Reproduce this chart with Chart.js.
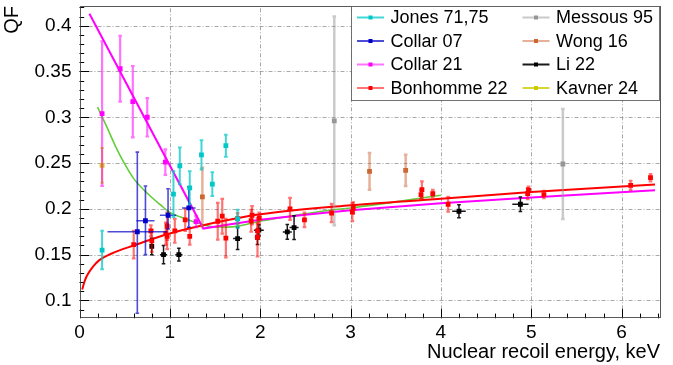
<!DOCTYPE html>
<html><head><meta charset="utf-8">
<script src="https://cdn.jsdelivr.net/npm/chart.js@4/dist/chart.umd.min.js"></script>
<style>html,body{margin:0;padding:0;background:#fff;}canvas{display:block;}</style>
</head><body>
<canvas id="c" width="673" height="365"></canvas>
<script>
// ---------- data ----------
const xTickLabels = ['0','1','2','3','4','5','6'];
const yTickLabels = ['0.1','0.15','0.2','0.25','0.3','0.35','0.4'];

const jonesX   = [0.25, 1.04, 1.11, 1.22, 1.35, 1.47, 1.62, 1.75];
const jonesY   = [0.155, 0.216, 0.247, 0.223, 0.259, 0.227, 0.269, 0.189];
const jonesErr = [0.021, 0.025, 0.020, 0.018, 0.016, 0.013, 0.012, 0.010];

const collar07X    = [0.64, 0.73, 0.98, 1.21];
const collar07Y    = [0.175, 0.187, 0.193, 0.201];
const collar07XErr = [0.33, 0.10, 0.09, 0.075];
const collar07YLo  = [0.089, 0.037, 0.015, 0.021];
const collar07YHi  = [0.087, 0.038, 0.029, 0.023];

const collar21X   = [0.25, 0.45, 0.59, 0.75, 0.95, 1.29];
const collar21Y   = [0.304, 0.353, 0.317, 0.300, 0.251, 0.186];
const collar21Err = [0.079, 0.036, 0.039, 0.021, 0.014, 0.006];

const bonhommeX   = [0.60, 0.79, 0.80, 0.955, 0.97, 0.97, 1.055, 1.17, 1.22, 1.53, 1.58, 1.62, 1.75, 1.90, 1.91, 1.97, 1.97, 1.99, 2.33, 2.49, 2.79, 3.02, 3.03, 3.78, 3.79, 3.91, 4.08, 4.96, 4.97, 5.14, 6.10, 6.32];
const bonhommeY   = [0.161, 0.176, 0.165, 0.173, 0.181, 0.170, 0.176, 0.188, 0.170, 0.1865, 0.192, 0.168, 0.1894, 0.187, 0.193, 0.176, 0.169, 0.190, 0.200, 0.188, 0.1955, 0.1966, 0.201, 0.2156, 0.221, 0.2167, 0.205, 0.2167, 0.2203, 0.2156, 0.2257, 0.234];
const bonhommeErr = [0.015, 0.006, 0.012, 0.012, 0.015, 0.014, 0.013, 0.012, 0.009, 0.020, 0.019, 0.021, 0.006, 0.012, 0.010, 0.008, 0.021, 0.006, 0.012, 0.008, 0.010, 0.010, 0.006, 0.005, 0.009, 0.004, 0.008, 0.006, 0.004, 0.004, 0.005, 0.004];

const messousX   = [2.82, 5.35];
const messousY   = [0.296, 0.249];
const messousErr = [0.114, 0.060];

const wongX   = [1.36, 3.21, 3.61];
const wongY   = [0.213, 0.241, 0.242];
const wongErr = [0.032, 0.020, 0.017];

const liX    = [0.80, 0.93, 1.10, 1.75, 1.97, 1.985, 2.30, 2.375, 4.20, 4.88];
const liY    = [0.159, 0.150, 0.150, 0.1676, 0.169, 0.1767, 0.1748, 0.1796, 0.1974, 0.205];
const liXErr = [0.01, 0.04, 0.04, 0.05, 0.03, 0.055, 0.05, 0.05, 0.075, 0.09];
const liYErr = [0.009, 0.010, 0.007, 0.012, 0.008, 0.006, 0.008, 0.013, 0.007, 0.008];

const kavnerX   = [0.25];
const kavnerY   = [0.2475];
const kavnerErr = [0.019];

// model curves
const collar21FitX = [0.11, 1.37, 1.6, 2.0, 2.5, 3.0, 4.0, 5.0, 6.37];
const collar21FitY = [0.413, 0.1785, 0.182, 0.188, 0.1935, 0.1985, 0.206, 0.2125, 0.2203];

const bonhommeFitX = [0.03, 0.06, 0.10, 0.15, 0.22, 0.35, 0.60, 1.00, 1.37, 2.00, 3.00, 4.00, 5.00, 6.37];
const bonhommeFitY = [0.112, 0.122, 0.130, 0.137, 0.144, 0.151, 0.160, 0.173, 0.182, 0.194, 0.204, 0.211, 0.2185, 0.2265];

const greenX = [0.20, 0.30, 0.40, 0.50, 0.60, 0.75, 0.90, 1.00, 1.12, 1.26, 1.44, 1.63, 1.77, 1.96, 2.33, 2.77, 3.00, 4.00];
const greenY = [0.311, 0.290, 0.268, 0.249, 0.233, 0.217, 0.204, 0.196, 0.191, 0.186, 0.181, 0.180, 0.1814, 0.1857, 0.192, 0.1985, 0.201, 0.2148];

// ---------- helpers ----------
const pts = (xs, ys) => xs.map((x, i) => ({x: x, y: ys[i]}));
const FONT = '"Liberation Sans", Arial, Helvetica, sans-serif';

function pointSet(label, xs, ys, color, barColor, barWidth, err, radius) {
  return {
    label: label, data: pts(xs, ys), showLine: false,
    pointStyle: 'rect', pointRadius: radius || 3.4, pointBorderWidth: 0,
    backgroundColor: color, borderColor: color,
    barColor: barColor, barWidth: barWidth, err: err, order: 0
  };
}
function curveSet(label, xs, ys, color, width, interp) {
  return {
    label: label, data: pts(xs, ys), showLine: true, pointRadius: 0,
    borderColor: color, borderWidth: width, backgroundColor: color,
    cubicInterpolationMode: interp ? 'monotone' : 'default', tension: 0,
    order: 10, isCurve: true
  };
}

const datasets = [
  pointSet('Jones 71,75', jonesX, jonesY, 'rgb(0,200,200)', 'rgba(0,200,200,0.75)', 2, {lo: jonesErr, hi: jonesErr}),
  pointSet('Collar 07', collar07X, collar07Y, 'rgb(0,0,200)', 'rgba(0,0,200,0.7)', 1.6, {lo: collar07YLo, hi: collar07YHi, x: collar07XErr}),
  pointSet('Collar 21', collar21X, collar21Y, 'rgb(255,0,255)', 'rgba(255,0,255,0.55)', 2.2, {lo: collar21Err, hi: collar21Err}),
  pointSet('Bonhomme 22', bonhommeX, bonhommeY, 'rgb(255,0,0)', 'rgba(255,0,0,0.55)', 2.2, {lo: bonhommeErr, hi: bonhommeErr}),
  pointSet('Messous 95', messousX, messousY, 'rgb(150,150,150)', 'rgba(150,150,150,0.5)', 2.5, {lo: messousErr, hi: messousErr}),
  pointSet('Wong 16', wongX, wongY, 'rgb(204,102,51)', 'rgba(204,102,51,0.5)', 2.5, {lo: wongErr, hi: wongErr}),
  pointSet('Li 22', liX, liY, 'rgb(0,0,0)', 'rgba(0,0,0,0.9)', 1.5, {lo: liYErr, hi: liYErr, x: liXErr}),
  pointSet('Kavner 24', kavnerX, kavnerY, 'rgb(204,204,0)', 'rgba(204,204,0,0.8)', 2, {lo: kavnerErr, hi: kavnerErr}),
  curveSet('Collar 21 fit', collar21FitX, collar21FitY, 'rgb(255,0,255)', 2, false),
  curveSet('Bonhomme 22 fit', bonhommeFitX, bonhommeFitY, 'rgb(255,0,0)', 2, true),
  curveSet('model', greenX, greenY, 'rgb(100,205,60)', 1.6, true)
];

// legend layout: [label, column, row]
const legendOrder = [
  ['Jones 71,75', 0, 0], ['Collar 07', 0, 1], ['Collar 21', 0, 2], ['Bonhomme 22', 0, 3],
  ['Messous 95', 1, 0], ['Wong 16', 1, 1], ['Li 22', 1, 2], ['Kavner 24', 1, 3]
];

// ---------- plugins ----------
const framePlugin = {
  id: 'frame',
  beforeDatasetsDraw(chart) {
    const {ctx, chartArea: a, scales: {x, y}} = chart;
    ctx.save();
    // grid
    ctx.strokeStyle = 'rgba(140,140,140,0.75)';
    ctx.lineWidth = 1;
    ctx.setLineDash([4, 2, 1, 2]);
    x.ticks.forEach(t => {
      if (t.value <= x.min) return;
      const px = Math.round(x.getPixelForValue(t.value)) + 0.5;
      ctx.beginPath(); ctx.moveTo(px, a.bottom); ctx.lineTo(px, a.top); ctx.stroke();
    });
    y.ticks.forEach(t => {
      const py = Math.round(y.getPixelForValue(t.value)) + 0.5;
      ctx.beginPath(); ctx.moveTo(a.left, py); ctx.lineTo(a.right, py); ctx.stroke();
    });
    ctx.setLineDash([]);
    // ticks inside the frame
    ctx.strokeStyle = '#000';
    ctx.beginPath();
    for (let k = 0; k * 0.2 <= x.max + 1e-9; k++) {
      const v = k * 0.2;
      const px = Math.round(x.getPixelForValue(v)) + 0.5;
      const len = (k % 5 === 0) ? 9.5 : 4.7;
      ctx.moveTo(px, a.bottom); ctx.lineTo(px, a.bottom - len);
    }
    for (let k = 9; k * 0.01 <= y.max + 1e-9; k++) {
      const v = k * 0.01;
      const py = Math.round(y.getPixelForValue(v)) + 0.5;
      const len = (k % 5 === 0) ? 9.5 : 4.7;
      ctx.moveTo(a.left, py); ctx.lineTo(a.left + len, py);
    }
    ctx.stroke();
    ctx.restore();
  },
  afterDatasetsDraw(chart) {
    const {ctx, chartArea: a} = chart;
    ctx.save();
    ctx.strokeStyle = 'rgba(60,60,60,0.85)';
    ctx.lineWidth = 1;
    ctx.strokeRect(Math.round(a.left) + 0.5, Math.round(a.top) + 0.5, Math.round(a.right - a.left) - 1, Math.round(a.bottom - a.top) - 1);
    ctx.restore();
  }
};

const errorBarPlugin = {
  id: 'errbars',
  beforeDatasetDraw(chart, args) {
    const ds = chart.data.datasets[args.index];
    if (!ds.err) return;
    const {ctx, chartArea: a, scales: {x, y}} = chart;
    ctx.save();
    ctx.beginPath(); ctx.rect(a.left, a.top, a.right - a.left, a.bottom - a.top); ctx.clip();
    ctx.strokeStyle = ds.barColor;
    ctx.lineWidth = ds.barWidth;
    ds.data.forEach((p, i) => {
      const px = x.getPixelForValue(p.x);
      const py = y.getPixelForValue(p.y);
      const y1 = y.getPixelForValue(p.y - ds.err.lo[i]);
      const y2 = y.getPixelForValue(p.y + ds.err.hi[i]);
      ctx.beginPath();
      ctx.moveTo(px, y1); ctx.lineTo(px, y2);
      ctx.moveTo(px - 1.8, y1); ctx.lineTo(px + 1.8, y1);
      ctx.moveTo(px - 1.8, y2); ctx.lineTo(px + 1.8, y2);
      if (ds.err.x) {
        const x1 = x.getPixelForValue(p.x - ds.err.x[i]);
        const x2 = x.getPixelForValue(p.x + ds.err.x[i]);
        ctx.moveTo(x1, py); ctx.lineTo(x2, py);
      }
      ctx.stroke();
    });
    ctx.restore();
  }
};

const legendPlugin = {
  id: 'rootLegend',
  afterDatasetsDraw(chart) {
    const {ctx, chartArea: a} = chart;
    const x0 = chart.scales.x.getPixelForValue(3.0);
    const left = Math.round(x0) + 0.5, top = Math.round(a.top) + 0.5;
    const right = Math.round(a.right) - 0.5, bottom = 100.5;
    ctx.save();
    ctx.fillStyle = '#fff';
    ctx.fillRect(left, top, right - left, bottom - top);
    ctx.strokeStyle = 'rgba(80,80,80,0.8)';
    ctx.lineWidth = 1;
    ctx.strokeRect(left, top, right - left, bottom - top);
    const colX = [left + 5.5, left + 171];
    const rowY = [17.5, 41, 64.5, 88];
    ctx.font = '18px ' + FONT;
    ctx.textBaseline = 'middle';
    ctx.textAlign = 'left';
    legendOrder.forEach(([label, c, r]) => {
      const ds = chart.data.datasets.find(d => d.label === label);
      const lx = colX[c], ly = rowY[r];
      ctx.strokeStyle = ds.barColor;
      ctx.lineWidth = 2;
      ctx.beginPath(); ctx.moveTo(lx, ly); ctx.lineTo(lx + 27, ly); ctx.stroke();
      ctx.fillStyle = ds.backgroundColor;
      ctx.fillRect(lx + 13.5 - 2, ly - 2, 4, 4);
      ctx.fillStyle = '#000';
      ctx.fillText(label, lx + 33.5, ly + 1);
    });
    ctx.restore();
  }
};

// ---------- chart ----------
new Chart(document.getElementById('c').getContext('2d'), {
  type: 'scatter',
  data: {datasets: datasets},
  options: {
    responsive: false, animation: false, devicePixelRatio: 1,
    layout: {padding: {left: 0, right: 13, top: 6, bottom: 0}},
    plugins: {legend: {display: false}, tooltip: {enabled: false}},
    elements: {line: {fill: false}},
    scales: {
      x: {
        type: 'linear', min: 0, max: 6.425,
        afterBuildTicks: s => { s.ticks = xTickLabels.map(v => ({value: parseFloat(v)})); },
        afterFit: s => { s.height = 46.7; s.paddingLeft = 0; s.paddingRight = 0; },
        grid: {display: false, drawTicks: false}, border: {display: false},
        ticks: {color: '#000', font: {family: FONT, size: 19}, padding: 3, maxRotation: 0, autoSkip: false,
                callback: (v, i) => xTickLabels[i]},
        title: {display: true, text: 'Nuclear recoil energy, keV', align: 'end', color: '#000',
                font: {family: FONT, size: 20}, padding: {top: 0, bottom: 1}}
      },
      y: {
        type: 'linear', min: 0.0805, max: 0.4215,
        afterBuildTicks: s => { s.ticks = yTickLabels.map(v => ({value: parseFloat(v)})); },
        afterFit: s => { s.width = 79.5; s.paddingTop = 0; s.paddingBottom = 0; },
        grid: {display: false, drawTicks: false}, border: {display: false},
        ticks: {color: '#000', font: {family: FONT, size: 19}, padding: 8, autoSkip: false,
                callback: (v, i) => yTickLabels[i]},
        title: {display: true, text: 'QF', align: 'end', color: '#000',
                font: {family: FONT, size: 20}, padding: {top: 0, bottom: 0}}
      }
    }
  },
  plugins: [framePlugin, errorBarPlugin, legendPlugin]
});
</script>
</body></html>
